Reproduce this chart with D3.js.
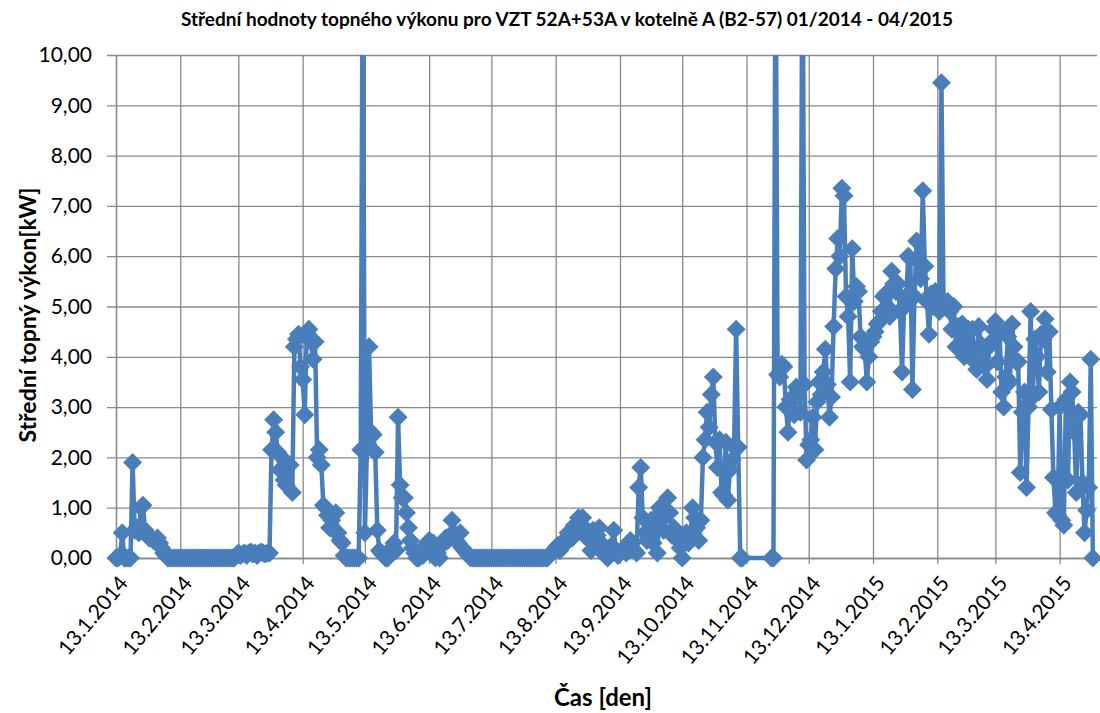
<!DOCTYPE html>
<html>
<head>
<meta charset="utf-8">
<script src="https://cdn.jsdelivr.net/npm/d3@7"></script>
<style>
  body { margin: 0; background: #fff; }
  svg { display: block; }
  text { font-family: Lato, "Open Sans", sans-serif; fill: #000; }
</style>
</head>
<body>
<svg id="chart" width="1100" height="713"></svg>
<script>
// daily means, first day 13.1.2014 (null = no record that day)
const firstDay = "2014-01-13";
const lastDay = "2015-05-01";

const jan2014 = [0, 0, 0.05, 0.5, 0, 0, 0, 0, 1.9, 0.55, 0.6, 0.5, 1.0, 1.05, 0.55, 0.45, 0.4, 0.4, 0.35];
const feb2014 = [0.35, 0.4, 0.3, 0.2, 0.1, 0.05, 0, 0, 0, 0, 0, 0, 0, 0, 0, 0, 0, 0, 0, 0, 0, 0, 0, 0, 0, 0, 0, 0];
const mar2014 = [0, 0, 0, 0, 0, 0, 0, 0, 0, 0, 0, 0.05, 0.1, 0.05, 0.08, 0.1, 0.05, 0.1, 0.12, 0.08, 0.1, 0.05, 0.1, 0.12, 0.1, 0.08, 0.1, 0.1, 2.15, 2.75, 2.5];
const apr2014 = [2.1, 1.75, 2.0, 1.55, 1.45, 1.85, 1.85, 1.3, 4.2, 4.35, 4.45, 3.8, 3.55, 2.85, 4.5, 4.55, 4.3, 3.95, 4.3, 2.0, 2.15, 1.85, 1.05, 1.0, 0.85, 0.6, 0.75, 0.55, 0.9, 0.5];
const may2014 = [0.35, 0.3, 0.05, 0, 0, 0, 0, 0, 0, 0, 2.15, 13, 0.5, 2.2, 4.2, 2.5, 2.45, 2.1, 0.55, 0.15, 0.1, 0.05, 0, 0, 0.1, 0.2, 0.3, 0.15, 2.8, 1.45, 1.2];
const jun2014 = [1.2, 0.9, 0.6, 0.35, 0.2, 0.1, 0, 0, 0.1, 0.05, 0.2, 0.3, 0.35, 0.15, 0.3, 0, 0.1, 0, 0.25, 0.3, 0.4, 0.35, 0.45, 0.75, 0.5, 0.35, 0.3, 0.5, 0.2, 0.15];
const jul2014 = [0.1, 0.05, 0, 0, 0, 0, 0, 0, 0, 0, 0, 0, 0, 0, 0, 0, 0, 0, 0, 0, 0, 0, 0, 0, 0, 0, 0, 0, 0, 0, 0];
const aug2014 = [0, 0, 0, 0, 0, 0, 0, 0, 0, 0.05, 0.1, 0.15, 0.2, 0.25, 0.15, 0.3, 0.35, 0.3, 0.5, 0.45, 0.4, 0.65, 0.6, 0.8, 0.55, 0.8, 0.6, 0.4, 0.5, 0.15, 0.55];
const sep2014 = [0.3, 0.45, 0.6, 0.3, 0.1, 0.05, 0, 0.05, 0.25, 0.55, 0.15, 0.05, 0.1, 0.15, 0.2, 0.1, 0.2, 0.35, 0.3, 0.15, 0.1, 1.4, 1.8, 0.8, 0.5, 0.35, 0.5, 0.75, 0.3, 0.8];
const oct2014 = [0.1, 1.0, 0.75, 0.55, 0.9, 1.2, 0.9, 0.45, 0.6, 0.4, 0.35, 0.2, 0, 0.35, 0.5, 0.3, 0.45, 1.0, 0.8, 0.6, 0.35, 0.75, 2.0, 2.35, 2.9, 2.6, 3.25, 3.6, 2.3, 1.8, 2.35];
const nov2014 = [1.3, 1.25, 2.3, 1.15, 1.75, 1.95, 2.2, 4.55, 2.2, 0, 0, null, null, null, null, null, null, null, null, null, null, null, null, null, 0, 0, 13, 3.65, 3.6, 3.85];
const dec2014 = [3.8, 3.0, 2.5, 3.15, 2.9, 2.85, 3.4, 3.35, 2.9, 13, 3.45, 1.95, 2.25, 2.35, 2.8, 2.15, 3.1, 3.5, 3.25, 3.7, 4.15, 3.45, 2.8, 3.2, 4.6, 5.75, 6.35, 6.0, 7.35, 7.2, 5.2];
const jan2015 = [4.8, 3.5, 6.15, 5.1, 5.4, 5.3, 4.4, 4.2, 4.15, 3.5, 4.0, 4.3, 4.4, 4.5, 4.65, 4.7, 4.9, 5.2, 5.25, 5.0, 4.8, 5.7, 5.45, 5.3, 5.45, 4.9, 3.7, 5.0, 5.2, 6.0, 5.95];
const feb2015 = [3.35, 5.2, 6.3, 5.9, 5.55, 7.3, 5.8, 5.1, 4.45, 5.25, 5.0, 5.3, 5.1, 4.9, 9.45, 5.1, 5.05, 5.1, 4.9, 4.55, 5.0, 4.2, 4.6, 4.15, 4.65, 4.0, 4.3, 4.55];
const mar2015 = [4.0, 4.55, 3.9, 3.75, 4.6, 4.25, 4.1, 3.8, 3.55, 4.2, 4.3, 4.55, 4.7, 3.9, 4.55, 3.3, 3.0, 3.6, 4.4, 3.5, 4.65, 4.2, 3.9, 3.9, 1.7, 2.9, 3.3, 1.4, 3.0, 4.9, 3.2];
const apr2015 = [4.35, 4.0, 3.3, 4.45, 4.35, 4.75, 3.7, 4.5, 2.95, 1.6, 0.9, 0.85, 3.0, 0.75, 0.65, 3.15, 1.55, 3.5, 3.3, 2.5, 1.3, 2.9, 2.85, 1.5, 0.5, 0.95, 1.4, 3.95, 0];

const xTicks = ["2014-01-13", "2014-02-13", "2014-03-13", "2014-04-13", "2014-05-13", "2014-06-13",
  "2014-07-13", "2014-08-13", "2014-09-13", "2014-10-13", "2014-11-13", "2014-12-13",
  "2015-01-13", "2015-02-13", "2015-03-13", "2015-04-13"];
const xTickLabels = ["13.1.2014", "13.2.2014", "13.3.2014", "13.4.2014", "13.5.2014", "13.6.2014",
  "13.7.2014", "13.8.2014", "13.9.2014", "13.10.2014", "13.11.2014", "13.12.2014",
  "13.1.2015", "13.2.2015", "13.3.2015", "13.4.2015"];
const yTicks = [0, 1, 2, 3, 4, 5, 6, 7, 8, 9, 10];
const yTickLabels = ["0,00", "1,00", "2,00", "3,00", "4,00", "5,00", "6,00", "7,00", "8,00", "9,00", "10,00"];

const title = "Střední hodnoty topného výkonu pro VZT 52A+53A v kotelně A (B2-57) 01/2014 - 04/2015";
const yTitle = "Střední topný výkon[kW]";
const xTitle = "Čas [den]";

const blue = "#4a7ebb";
const gridColor = "#898989";

const parse = d3.timeParse("%Y-%m-%d");
const values = [].concat(jan2014, feb2014, mar2014, apr2014, may2014, jun2014, jul2014, aug2014,
  sep2014, oct2014, nov2014, dec2014, jan2015, feb2015, mar2015, apr2015);
// days without a record are skipped, the line joins the neighbours
const data = values
  .map((v, i) => ({date: d3.timeDay.offset(parse(firstDay), i), value: v}))
  .filter(d => d.value !== null);

const plot = {left: 116, right: 1097, top: 55, bottom: 558};

const svg = d3.select("#chart");

const x = d3.scaleTime()
  .domain([parse(firstDay), parse(lastDay)])
  .range([plot.left, plot.right]);
const y = d3.scaleLinear()
  .domain([0, 10])
  .range([plot.bottom, plot.top]);

// horizontal grid + y axis
const yAxis = svg.append("g")
  .attr("transform", `translate(${plot.left},0)`)
  .call(d3.axisLeft(y)
    .tickValues(yTicks)
    .tickFormat((d, i) => yTickLabels[i])
    .tickSizeInner(-(plot.right - plot.left))
    .tickSizeOuter(0)
    .tickPadding(24));
yAxis.select(".domain").attr("stroke", gridColor).attr("stroke-width", 1.3);
yAxis.selectAll(".tick line").attr("x1", -9).attr("stroke", gridColor).attr("stroke-width", 1.3);
yAxis.selectAll(".tick text").style("font-size", "21px");

// vertical grid + x axis
const xAxis = svg.append("g")
  .attr("transform", `translate(0,${plot.bottom})`)
  .call(d3.axisBottom(x)
    .tickValues(xTicks.map(parse))
    .tickFormat((d, i) => xTickLabels[i])
    .tickSizeInner(-(plot.bottom - plot.top))
    .tickSizeOuter(0));
xAxis.select(".domain").attr("stroke", gridColor).attr("stroke-width", 1.3);
xAxis.selectAll(".tick line").attr("y1", 6).attr("stroke", gridColor).attr("stroke-width", 1.3);
xAxis.selectAll(".tick text")
  .style("font-size", "21px")
  .attr("text-anchor", "end")
  .attr("x", 0).attr("y", 0).attr("dy", "0.35em")
  .attr("transform", "translate(7,21) rotate(-50)");

// clip everything above 10
svg.append("clipPath").attr("id", "clip")
  .append("rect")
  .attr("x", 0).attr("y", plot.top)
  .attr("width", 1100).attr("height", 713 - plot.top);

const g = svg.append("g").attr("clip-path", "url(#clip)");

const line = d3.line()
  .x(d => x(d.date))
  .y(d => y(d.value));

g.append("path")
  .datum(data)
  .attr("d", line)
  .attr("fill", "none")
  .attr("stroke", blue)
  .attr("stroke-width", 4.5)
  .attr("stroke-linejoin", "round")
  .attr("stroke-linecap", "round");

const r = 9.5;
g.selectAll(".marker")
  .data(data)
  .enter().append("path")
  .attr("class", "marker")
  .attr("d", `M0,${-r}L${r},0L0,${r}L${-r},0Z`)
  .attr("transform", d => `translate(${x(d.date)},${y(d.value)})`)
  .attr("fill", blue);

// titles
svg.append("text")
  .attr("x", 567).attr("y", 26)
  .attr("text-anchor", "middle")
  .style("font-size", "19px").style("font-weight", "bold")
  .text(title);

svg.append("text")
  .attr("transform", "translate(36,315) rotate(-90)")
  .attr("text-anchor", "middle")
  .style("font-size", "23px").style("font-weight", "bold")
  .text(yTitle);

svg.append("text")
  .attr("x", 603).attr("y", 706)
  .attr("text-anchor", "middle")
  .style("font-size", "24px").style("font-weight", "bold")
  .text(xTitle);
</script>
</body>
</html>
